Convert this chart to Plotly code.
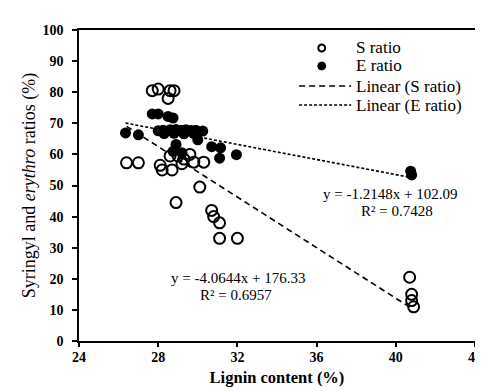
import plotly.graph_objects as go

# S ratio (open circles)
s_lignin = [26.4, 27.0, 27.7, 28.0, 28.6, 28.8, 28.5, 28.1, 28.2, 28.7, 28.6, 29.0, 29.3, 29.2,
            29.6, 29.8, 30.3, 30.1, 28.9, 30.7, 30.8, 31.1, 31.1, 32.0, 40.7, 40.8, 40.8, 40.9]
s_ratio = [57.3, 57.3, 80.5, 81.0, 80.5, 80.5, 78.0, 56.5, 55.0, 55.0, 59.5, 59.5, 58.5, 57.0,
           60.0, 57.5, 57.5, 49.5, 44.5, 42.0, 40.0, 38.0, 33.0, 33.0, 20.5, 15.0, 13.0, 11.0]

# E ratio (filled circles)
e_lignin = [26.35, 27.0, 27.7, 28.0, 28.5, 28.75, 28.0, 28.25, 28.6, 28.9, 29.15, 29.4, 29.65,
            29.9, 30.25, 28.3, 28.8, 29.3, 29.8, 30.0, 28.9, 28.75, 29.2, 30.7, 31.15, 31.1,
            31.95, 40.75, 40.8]
e_ratio = [66.9, 66.3, 73.0, 73.0, 72.2, 71.7, 67.6, 67.8, 67.9, 68.0, 67.8, 67.9, 67.7,
           67.8, 67.5, 66.7, 66.8, 66.6, 66.7, 64.7, 63.2, 61.0, 60.5, 62.5, 62.1, 58.8,
           59.9, 54.6, 53.4]

# Trend lines as printed on the chart: slope, intercept, x-range
s_fit = (-4.0644, 176.33)
e_fit = (-1.2148, 102.09)
s_fit_x = [26.4, 40.8]
e_fit_x = [26.35, 40.8]

x_ticks = [24, 28, 32, 36, 40, 44]
y_ticks = [0, 10, 20, 30, 40, 50, 60, 70, 80, 90, 100]

legend_labels = ["S ratio", "E ratio", "Linear (S ratio)", "Linear (E ratio)"]

FONT = "Liberation Serif"
L, R, T, B = 71, 9, 22, 58
W, H = 483, 391
pw, ph = W - L - R, H - T - B

S_DASH = "6px,4px"
E_DASH = "3px,2px"


def px_x(p):
    return (p - L) / pw


def px_y(p):
    return 1 - (p - T) / ph


fig = go.Figure()
fig.add_trace(go.Scatter(
    x=s_lignin, y=s_ratio, mode="markers", name=legend_labels[0],
    marker=dict(symbol="circle-open", size=11, color="black", line=dict(width=2, color="black")),
))
fig.add_trace(go.Scatter(
    x=e_lignin, y=e_ratio, mode="markers", name=legend_labels[1],
    marker=dict(symbol="circle", size=11, color="black"),
))
fig.add_trace(go.Scatter(
    x=s_fit_x, y=[s_fit[0] * v + s_fit[1] for v in s_fit_x], mode="lines",
    name=legend_labels[2], line=dict(color="black", width=1.6, dash=S_DASH),
))
fig.add_trace(go.Scatter(
    x=e_fit_x, y=[e_fit[0] * v + e_fit[1] for v in e_fit_x], mode="lines",
    name=legend_labels[3], line=dict(color="black", width=1.6, dash=E_DASH),
))

# regression equations
ann_font = dict(family=FONT, size=15, color="black")
for txt, ax, ay in [("y = -1.2148x + 102.09", 387, 186), ("R² = 0.7428", 395, 203),
                    ("y = -4.0644x + 176.33", 233, 270), ("R² = 0.6957", 231, 287)]:
    fig.add_annotation(x=px_x(ax), y=px_y(ay), xref="paper", yref="paper", text=txt,
                       xanchor="center", yanchor="middle", showarrow=False, font=ann_font)

# hand-drawn legend (matches the original's compact Excel-style legend)
leg_rows = [40, 58, 78, 97]
leg_font = dict(family=FONT, size=17, color="black")
for label, ry in zip(legend_labels, leg_rows):
    fig.add_annotation(x=px_x(351), y=px_y(ry), xref="paper", yref="paper", text=label,
                       xanchor="left", yanchor="middle", showarrow=False, font=leg_font)
# symbols
fig.add_shape(type="circle", xref="paper", yref="paper",
              x0=px_x(314.5), x1=px_x(321.5), y0=px_y(leg_rows[0] + 3.5), y1=px_y(leg_rows[0] - 3.5),
              line=dict(color="black", width=2), fillcolor="rgba(0,0,0,0)")
fig.add_shape(type="circle", xref="paper", yref="paper",
              x0=px_x(314), x1=px_x(322), y0=px_y(leg_rows[1] + 4), y1=px_y(leg_rows[1] - 4),
              line=dict(color="black", width=1), fillcolor="black")
fig.add_shape(type="line", xref="paper", yref="paper",
              x0=px_x(295), x1=px_x(348), y0=px_y(leg_rows[2]), y1=px_y(leg_rows[2]),
              line=dict(color="black", width=1.6, dash=S_DASH))
fig.add_shape(type="line", xref="paper", yref="paper",
              x0=px_x(295), x1=px_x(348), y0=px_y(leg_rows[3]), y1=px_y(leg_rows[3]),
              line=dict(color="black", width=1.6, dash=E_DASH))

fig.update_layout(
    width=W, height=H,
    margin=dict(l=L, r=R, t=T, b=B),
    paper_bgcolor="white", plot_bgcolor="white",
    font=dict(family=FONT, color="black", size=14),
    showlegend=False,
)
fig.update_xaxes(
    range=[24, 44], tickvals=x_ticks, ticktext=[str(v) for v in x_ticks],
    showgrid=False, zeroline=False, showline=True, linecolor="black", linewidth=1.5, mirror=True,
    ticks="outside", ticklen=4, tickwidth=1.5, tickcolor="black", ticklabelstandoff=-2,
    tickfont=dict(family=FONT, size=14, weight="bold"),
    title=dict(text="Lignin content (%)", font=dict(family=FONT, size=16.5, weight="bold"), standoff=8),
)
fig.update_yaxes(
    range=[0, 100], tickvals=y_ticks, ticktext=[str(v) for v in y_ticks],
    showgrid=False, zeroline=False, showline=True, linecolor="black", linewidth=1.5, mirror=True,
    ticks="outside", ticklen=5, tickwidth=1.5, tickcolor="black", ticklabelstandoff=6,
    tickfont=dict(family=FONT, size=14, weight="bold"),
    title=dict(text="Syringyl and <i>erythro</i> ratios (%)", font=dict(family=FONT, size=18), standoff=2),
)

fig.write_html("out.html")
